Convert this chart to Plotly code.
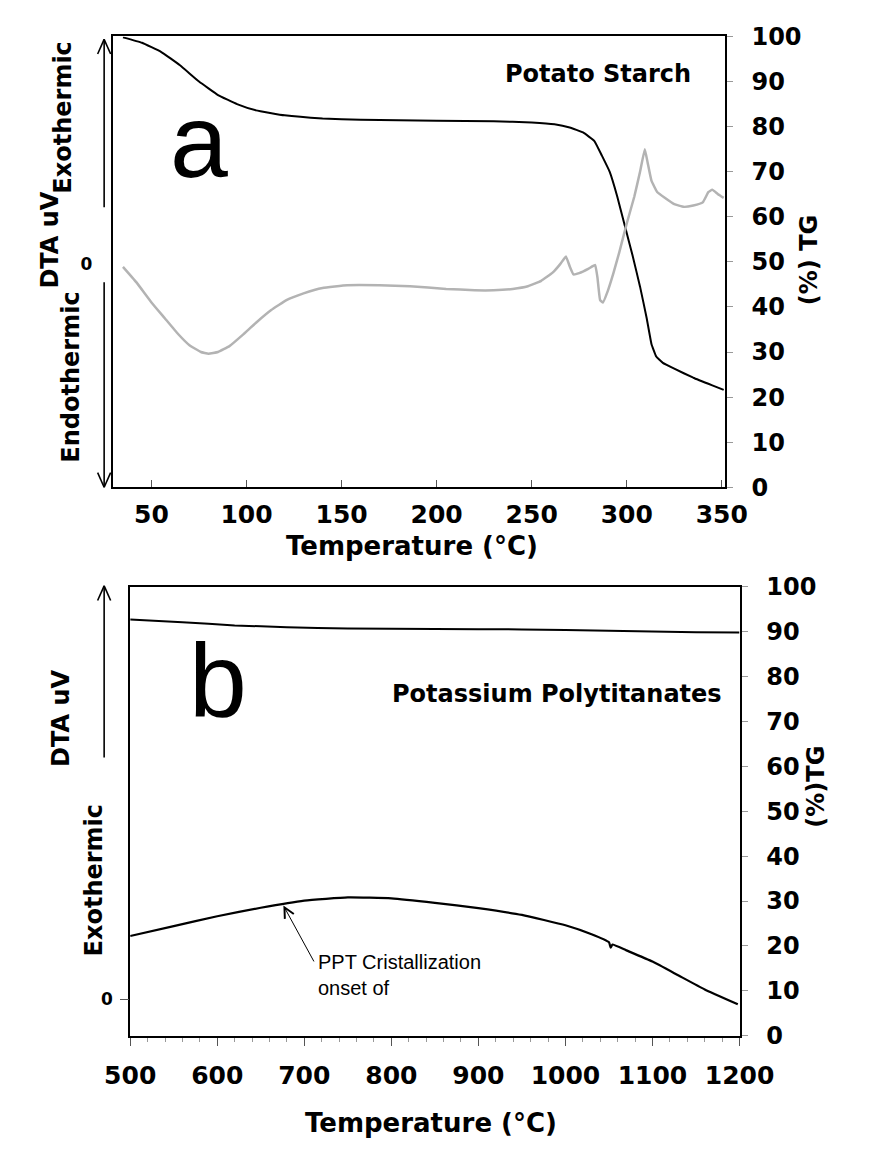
import plotly.graph_objects as go

# ---------------- data: panel a (Potato Starch) ----------------
a_tg_T = [35, 45, 55, 65, 75, 85, 95, 105, 120, 140, 160, 200, 230, 250, 262, 270, 277, 283, 287,
          291, 295, 299, 303, 307, 310.5, 313, 315.5, 319, 325, 335, 345, 351]
a_tg_v = [99.8, 98.6, 96.6, 93.6, 90.0, 87.0, 85.0, 83.6, 82.5, 81.8, 81.5, 81.3, 81.2, 80.9, 80.5,
          79.8, 78.7, 76.8, 73.5, 70.0, 64.5, 58.0, 51.5, 44.5, 37.5, 31.8, 29.0, 27.6, 26.3, 24.3,
          22.6, 21.6]

# DTA signal (uV, arbitrary scale, 0 = baseline)
a_dta_T = [35, 42, 50, 57, 64, 70, 76, 80, 85, 91, 98, 105, 113, 121, 130, 140, 153, 170, 186, 205,
           220, 230, 240, 248, 255, 261, 265, 268, 270, 272, 275, 280, 283.4, 284.6, 286, 287.5, 290,
           293, 296, 300, 304, 307, 309.5, 311, 313, 316, 320, 325, 330, 335, 340, 343, 345, 348, 351]
a_dta_v = [-0.7, -4.1, -8.6, -12.1, -15.6, -18.1, -19.6, -20.0, -19.6, -18.3, -15.8, -13.1, -10.3,
           -8.1, -6.6, -5.4, -4.8, -4.8, -5.0, -5.6, -5.9, -5.9, -5.6, -5.0, -3.8, -2.0, -0.1, 1.6,
           -0.6, -2.4, -2.1, -1.1, -0.3, -3.1, -8.1, -8.6, -6.1, -2.1, 2.4, 8.9, 14.9, 20.4, 25.4,
           22.4, 18.4, 15.9, 14.6, 13.2, 12.6, 12.9, 13.6, 15.9, 16.4, 15.4, 14.6]

# ---------------- data: panel b (Potassium Polytitanates) ----------------
b_tg_T = [500, 560, 620, 680, 750, 850, 950, 1050, 1150, 1200]
b_tg_v = [92.7, 92.1, 91.4, 91.0, 90.7, 90.6, 90.5, 90.2, 89.9, 89.8]

b_dta_T = [500, 550, 600, 650, 700, 750, 800, 850, 900, 950, 1000, 1030, 1050, 1052, 1054, 1070,
           1100, 1130, 1160, 1198]
b_dta_v = [14.1, 16.3, 18.5, 20.4, 22.0, 22.7, 22.5, 21.5, 20.3, 18.8, 16.5, 14.5, 12.7, 11.5, 12.2,
           10.9, 8.4, 5.3, 2.2, -1.1]

tg_ticks = list(range(0, 101, 10))
a_x_ticks = [50, 100, 150, 200, 250, 300, 350]
b_x_ticks = [500, 600, 700, 800, 900, 1000, 1100, 1200]

W, H = 875, 1157
def px(x): return x / W
def py(y): return 1 - y / H

FAM = "DejaVu Sans"
YTICKF = dict(family=FAM, size=24, color="black", weight="bold")
XTICKF = dict(family=FAM, size=25, color="black", weight="bold")

fig = go.Figure()
fig.add_trace(go.Scatter(x=a_dta_T, y=a_dta_v, xaxis="x", yaxis="y2", mode="lines",
                         line=dict(color="#b3b3b3", width=2.5, shape="spline", smoothing=0.3)))
fig.add_trace(go.Scatter(x=a_tg_T, y=a_tg_v, xaxis="x", yaxis="y", mode="lines",
                         line=dict(color="black", width=2, shape="spline", smoothing=0.3)))
fig.add_trace(go.Scatter(x=b_tg_T, y=b_tg_v, xaxis="x2", yaxis="y3", mode="lines",
                         line=dict(color="black", width=2, shape="spline", smoothing=0.5)))
fig.add_trace(go.Scatter(x=b_dta_T, y=b_dta_v, xaxis="x2", yaxis="y4", mode="lines",
                         line=dict(color="black", width=2.2, shape="spline", smoothing=0.4)))

axline = dict(showline=True, linecolor="black", linewidth=2, mirror=True, showgrid=False, zeroline=False)
a_dom_x = [px(94), px(751)]
a_dom_y = [py(485), py(23)]
b_dom_x = [px(112), px(767)]
b_dom_y = [py(1047), py(587)]

fig.update_layout(
    width=W, height=H, margin=dict(l=0, r=0, t=0, b=0),
    paper_bgcolor="white", plot_bgcolor="white", showlegend=False,
    xaxis=dict(domain=a_dom_x, range=[30, 351.5], anchor="y", tickvals=a_x_ticks,
               ticks="inside", ticklen=7, tickwidth=1, tickcolor="#555", tickfont=XTICKF,
               ticklabelstandoff=4, **axline),
    yaxis=dict(domain=a_dom_y, range=[0, 100], anchor="x", side="right", tickvals=tg_ticks,
               ticks="outside", ticklen=6, tickcolor="#999", tickfont=YTICKF,
               ticklabelstandoff=14, **axline),
    yaxis2=dict(overlaying="y", range=[-49.6, 50.4], anchor="x", side="left", tickvals=[0], ticktext=["0"],
                ticks="", tickfont=dict(family=FAM, size=17, color="black", weight="bold"),
                ticklabelstandoff=20, showgrid=False, zeroline=False, showline=False),
    xaxis2=dict(domain=b_dom_x, range=[500, 1200], anchor="y3", tickvals=b_x_ticks,
                ticks="outside", ticklen=8, tickwidth=1, tickcolor="#555", tickfont=XTICKF,
                ticklabelstandoff=8,
                minor=dict(dtick=20, ticks="outside", ticklen=4, tickcolor="#999"), **axline),
    yaxis3=dict(domain=b_dom_y, range=[0, 100], anchor="x2", side="right", tickvals=tg_ticks,
                ticks="outside", ticklen=6, tickcolor="#999", tickfont=YTICKF,
                ticklabelstandoff=14, **axline),
    yaxis4=dict(overlaying="y3", range=[-8.1, 91.9], anchor="x2", side="left", tickvals=[0], ticktext=["0"],
                ticks="outside", ticklen=9, tickcolor="#555",
                tickfont=dict(family=FAM, size=17, color="black", weight="bold"),
                ticklabelstandoff=4, showgrid=False, zeroline=False, showline=False),
)

def txt(x, y, s, size=24, angle=0, family=FAM, weight="bold", xanchor="center"):
    fig.add_annotation(x=px(x), y=py(y), xref="paper", yref="paper", text=s, showarrow=False,
                       textangle=angle, xanchor=xanchor, yanchor="middle",
                       font=dict(family=family, size=size, color="black", weight=weight))

# axis titles
txt(415, 545, "Temperature (°C)", 26)
txt(435, 1136, "Temperature (°C)", 26)
txt(842, 252, "(%) TG", 24, -90)
txt(849, 792, "(%)TG", 24, -90)
# left DTA labels panel a
txt(26, 232, "DTA uV", 24, -90)
txt(40, 106, "Exothermic", 24, -90)
txt(48, 372, "Endothermic", 24, -90)
# left DTA labels panel b
txt(37, 722, "DTA uV", 24, -90)
txt(73, 887, "Exothermic", 24, -90)
# panel letters and names
txt(186, 130, "a", 104, family="Liberation Sans", weight="normal")
txt(206, 683, "b", 104, family="Liberation Sans", weight="normal")
txt(615, 61, "Potato Starch", 24)
txt(571, 697, "Potassium Polytitanates", 24)
# annotation with arrow
fig.add_annotation(x=676, y=29.0, xref="x2", yref="y3", ax=712, ay=16.2, axref="x2", ayref="y3",
                   text="", showarrow=True, arrowhead=5, arrowsize=2, arrowwidth=1, arrowcolor="black")
fig.add_annotation(x=713, y=16.2, xref="x2", yref="y3", text="PPT Cristallization<br>onset of",
                   showarrow=False, xanchor="left", yanchor="top", align="left",
                   font=dict(family="Liberation Sans", size=20, color="black"), yshift=14)

# left arrows (decorations)
def seg(x0, y0, x1, y1, w=1.6):
    fig.add_shape(type="line", xref="paper", yref="paper", x0=px(x0), y0=py(y0), x1=px(x1), y1=py(y1),
                  line=dict(color="black", width=w))
def head(x, y, d):
    seg(x, y, x - 7, y + d * 15)
    seg(x, y, x + 7, y + d * 15)

seg(84, 26, 84, 198); head(84, 26, 1)
seg(84, 275, 84, 485); head(84, 485, -1)
seg(84, 586, 84, 762); head(84, 586, 1)

fig.write_html("out.html")
